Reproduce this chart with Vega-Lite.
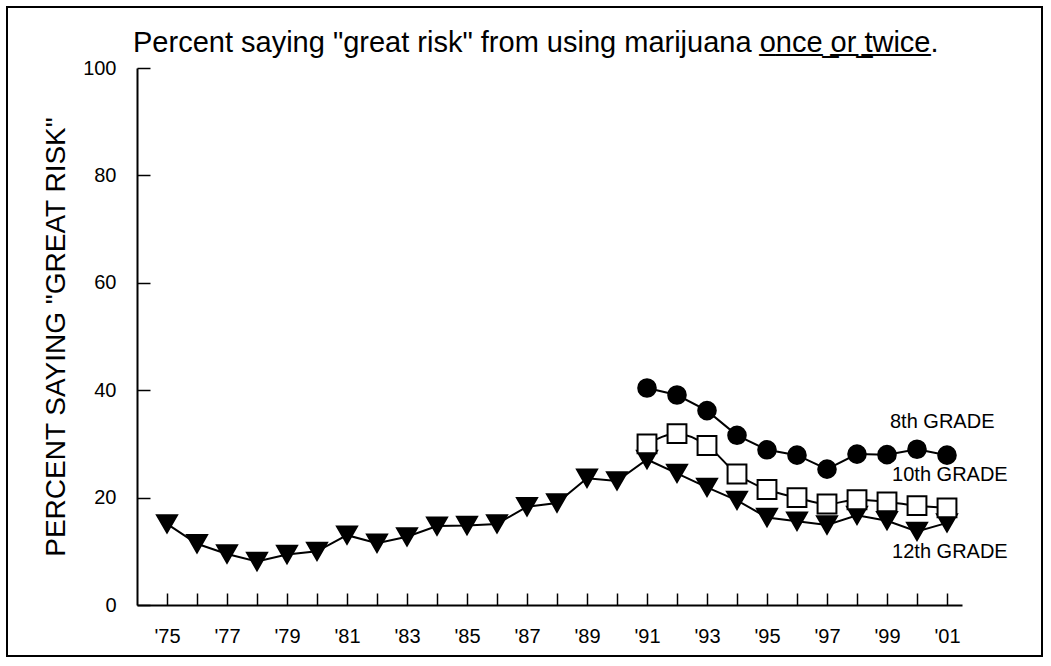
{
  "$schema": "https://vega.github.io/schema/vega-lite/v6.json",
  "width": 1035,
  "height": 649,
  "autosize": {"type": "none"},
  "padding": {"left": 7, "top": 7, "right": 9, "bottom": 10},
  "background": "white",
  "title": {
    "text": "Percent saying \"great risk\" from using marijuana o̲n̲c̲e̲ ̲o̲r̲ ̲t̲w̲i̲c̲e̲.",
    "anchor": "start",
    "frame": "group",
    "orient": "top",
    "offset": -74,
    "dx": 126,
    "baseline": "alphabetic",
    "font": "Liberation Sans",
    "fontSize": 29,
    "fontWeight": "normal",
    "color": "black"
  },
  "config": {
    "view": {"stroke": "black", "strokeWidth": 2},
    "font": "Liberation Sans"
  },
  "datasets": {
    "series": [
      {"year": 1975, "grade": "12th", "value": 15.1},
      {"year": 1976, "grade": "12th", "value": 11.4},
      {"year": 1977, "grade": "12th", "value": 9.5},
      {"year": 1978, "grade": "12th", "value": 8.1},
      {"year": 1979, "grade": "12th", "value": 9.4},
      {"year": 1980, "grade": "12th", "value": 10.0},
      {"year": 1981, "grade": "12th", "value": 13.0},
      {"year": 1982, "grade": "12th", "value": 11.5},
      {"year": 1983, "grade": "12th", "value": 12.7},
      {"year": 1984, "grade": "12th", "value": 14.7},
      {"year": 1985, "grade": "12th", "value": 14.8},
      {"year": 1986, "grade": "12th", "value": 15.1},
      {"year": 1987, "grade": "12th", "value": 18.3},
      {"year": 1988, "grade": "12th", "value": 19.0},
      {"year": 1989, "grade": "12th", "value": 23.6},
      {"year": 1990, "grade": "12th", "value": 23.1},
      {"year": 1991, "grade": "12th", "value": 27.1},
      {"year": 1992, "grade": "12th", "value": 24.5},
      {"year": 1993, "grade": "12th", "value": 21.9},
      {"year": 1994, "grade": "12th", "value": 19.5},
      {"year": 1995, "grade": "12th", "value": 16.3},
      {"year": 1996, "grade": "12th", "value": 15.6},
      {"year": 1997, "grade": "12th", "value": 14.9},
      {"year": 1998, "grade": "12th", "value": 16.7},
      {"year": 1999, "grade": "12th", "value": 15.7},
      {"year": 2000, "grade": "12th", "value": 13.7},
      {"year": 2001, "grade": "12th", "value": 15.3},
      {"year": 1991, "grade": "10th", "value": 30.0},
      {"year": 1992, "grade": "10th", "value": 31.9},
      {"year": 1993, "grade": "10th", "value": 29.7},
      {"year": 1994, "grade": "10th", "value": 24.4},
      {"year": 1995, "grade": "10th", "value": 21.5},
      {"year": 1996, "grade": "10th", "value": 20.0},
      {"year": 1997, "grade": "10th", "value": 18.8},
      {"year": 1998, "grade": "10th", "value": 19.6},
      {"year": 1999, "grade": "10th", "value": 19.2},
      {"year": 2000, "grade": "10th", "value": 18.5},
      {"year": 2001, "grade": "10th", "value": 18.1},
      {"year": 1991, "grade": "8th", "value": 40.4},
      {"year": 1992, "grade": "8th", "value": 39.1},
      {"year": 1993, "grade": "8th", "value": 36.2},
      {"year": 1994, "grade": "8th", "value": 31.6},
      {"year": 1995, "grade": "8th", "value": 28.9},
      {"year": 1996, "grade": "8th", "value": 27.9},
      {"year": 1997, "grade": "8th", "value": 25.3},
      {"year": 1998, "grade": "8th", "value": 28.1},
      {"year": 1999, "grade": "8th", "value": 28.0},
      {"year": 2000, "grade": "8th", "value": 29.0},
      {"year": 2001, "grade": "8th", "value": 27.9}
    ],
    "labels": [
      {"label": "8th GRADE", "year": 1999.1, "value": 34.1},
      {"label": "10th GRADE", "year": 1999.17, "value": 24.2},
      {"label": "12th GRADE", "year": 1999.17, "value": 9.9}
    ]
  },
  "encoding": {
    "x": {
      "field": "year",
      "type": "quantitative",
      "scale": {"domain": [1974, 2001.5], "range": [130, 955], "nice": false, "zero": false},
      "axis": {
        "title": null,
        "orient": "bottom",
        "offset": -51,
        "grid": false,
        "values": [1975,1976,1977,1978,1979,1980,1981,1982,1983,1984,1985,1986,1987,1988,1989,1990,1991,1992,1993,1994,1995,1996,1997,1998,1999,2000,2001],
        "labelExpr": "datum.value % 2 == 1 ? \"'\" + substring(toString(datum.value), 2, 4) : ''",
        "labelOverlap": false,
        "labelFlush": false,
        "tickSize": -12,
        "tickWidth": 1.5,
        "tickColor": "black",
        "domainColor": "black",
        "domainWidth": 2,
        "labelPadding": 33,
        "labelFont": "Liberation Sans",
        "labelFontSize": 20,
        "labelColor": "black"
      }
    },
    "y": {
      "field": "value",
      "type": "quantitative",
      "scale": {"domain": [0, 100], "range": [598, 61], "nice": false},
      "axis": {
        "title": "PERCENT SAYING \"GREAT RISK\"",
        "orient": "left",
        "offset": -130,
        "grid": false,
        "values": [0, 20, 40, 60, 80, 100],
        "tickSize": -13,
        "tickWidth": 1.5,
        "tickColor": "black",
        "domainColor": "black",
        "domainWidth": 2,
        "labelPadding": 34,
        "labelFont": "Liberation Sans",
        "labelFontSize": 20,
        "labelColor": "black",
        "labelFlush": false,
        "titleFont": "Liberation Sans",
        "titleFontSize": 28,
        "titleFontWeight": "normal",
        "titleColor": "black",
        "titlePadding": 12
      }
    }
  },
  "layer": [
    {
      "data": {"name": "series"},
      "transform": [{"filter": "datum.grade != '10th'"}],
      "mark": {"type": "line", "color": "black", "strokeWidth": 2},
      "encoding": {"detail": {"field": "grade"}}
    },
    {
      "data": {"name": "series"},
      "transform": [{"filter": "datum.grade == '10th'"}],
      "mark": {"type": "line", "color": "black", "strokeWidth": 2, "interpolate": "monotone"},
      "encoding": {}
    },
    {
      "data": {"name": "series"},
      "mark": {"type": "point", "filled": true, "stroke": "black", "strokeWidth": 2, "opacity": 1},
      "encoding": {
        "shape": {"field": "grade", "type": "nominal", "scale": {"domain": ["8th", "10th", "12th"], "range": ["circle", "square", "triangle-down"]}, "legend": null},
        "fill": {"field": "grade", "type": "nominal", "scale": {"domain": ["8th", "10th", "12th"], "range": ["black", "white", "black"]}, "legend": null},
        "size": {"field": "grade", "type": "nominal", "scale": {"domain": ["8th", "10th", "12th"], "range": [310, 400, 340]}, "legend": null}
      }
    },
    {
      "data": {"name": "labels"},
      "mark": {"type": "text", "align": "left", "baseline": "middle", "font": "Liberation Sans", "fontSize": 20, "color": "black"},
      "encoding": {"text": {"field": "label"}}
    }
  ]
}
